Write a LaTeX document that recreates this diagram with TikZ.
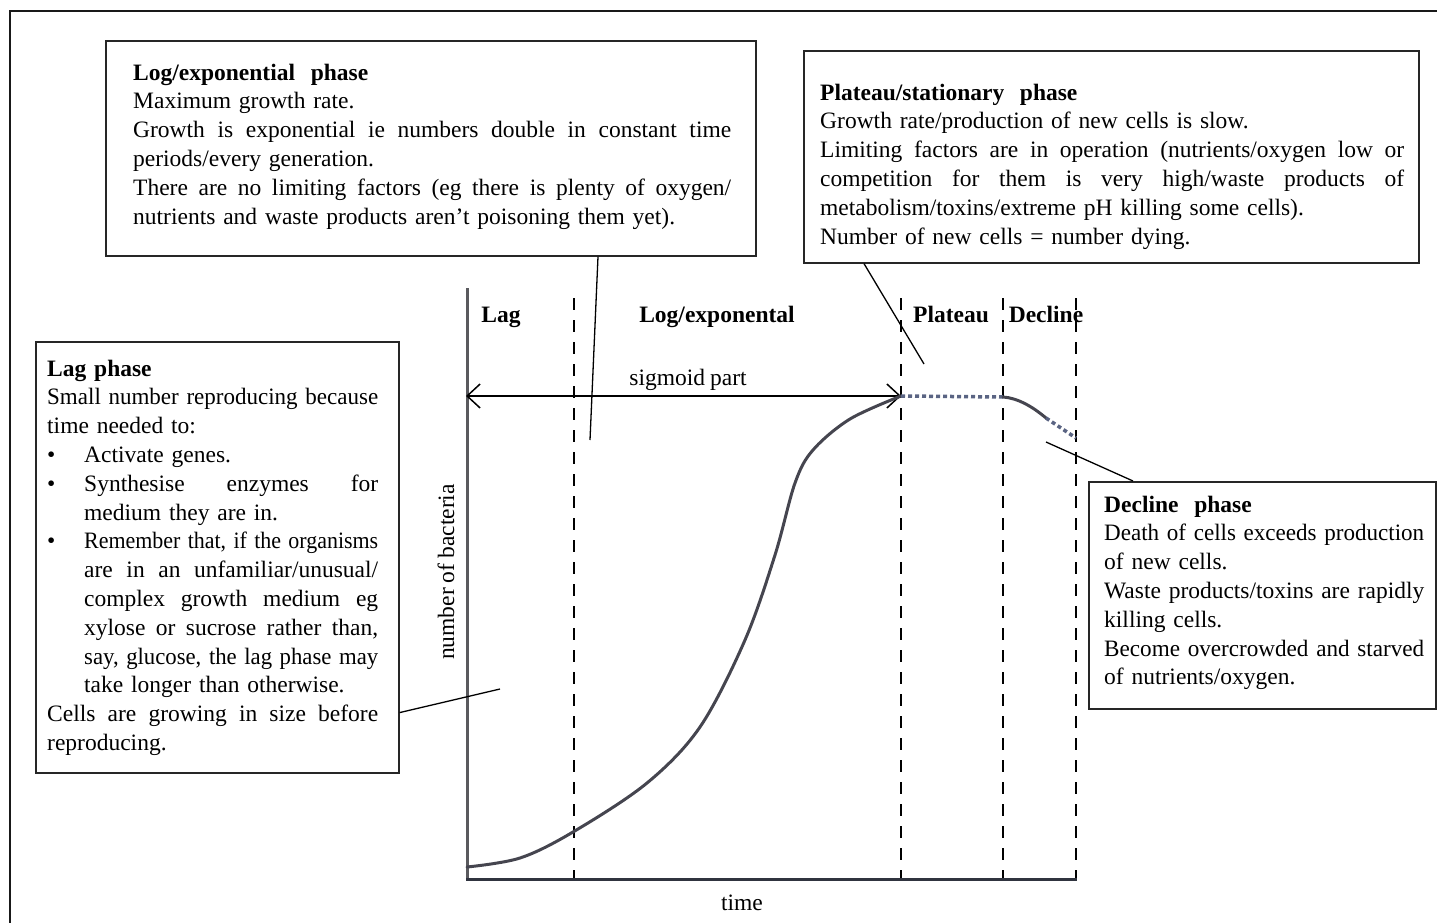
\documentclass[tikz,border=0pt]{standalone}
\usepackage{fontspec}
\usepackage{graphicx}
\setmainfont[WordSpace=0.85]{Liberation Serif}
\usetikzlibrary{arrows.meta}
\setlength{\parindent}{0pt}
\newsavebox{\jlbox}
\newcommand{\jl}[2]{\sbox{\jlbox}{#2}\ifdim\wd\jlbox>#1\relax\resizebox{#1}{\height}{\usebox{\jlbox}}\else\makebox[#1][s]{\spaceskip=0.21em plus 2em minus 0.07em #2}\fi}
\newcommand{\bul}{\makebox[37pt][l]{\textbullet}}
\definecolor{curvecol}{HTML}{45454F}
\definecolor{dotcol}{HTML}{5A6483}
\definecolor{xaxcol}{HTML}{30343F}
\definecolor{yaxcol}{HTML}{5A5A5E}
\begin{document}
\begin{tikzpicture}[x=1pt,y=-1pt,
  box/.style={draw=black!85, line width=1.6pt, inner sep=0pt, anchor=north west},
  txt/.style={inner sep=0pt, anchor=north west, align=left, font=\fontsize{23.5}{28.8}\selectfont},
  lbl/.style={inner sep=0pt, anchor=base, font=\fontsize{23.5}{28.8}\selectfont},
  conn/.style={line width=1.3pt, black},
  phaseline/.style={dash pattern=on 12pt off 10pt, line width=1.6pt, black},
  curve/.style={line width=3pt, color=curvecol, line cap=round},
  dotcurve/.style={line width=3.5pt, color=dotcol, dash pattern=on 4pt off 3pt},
  barb/.tip={Straight Barb[length=13pt,width=24pt]}]
\useasboundingbox (0,0) rectangle (1437,923);

% outer frame (top and left)
\draw[line width=2.5pt, black!90] (1437,11) -- (10,11) -- (10,923);

% boxes
\node[box, minimum width=650pt, minimum height=215pt] (logbox) at (105,40) {};
\node[box, minimum width=615pt, minimum height=212pt] (platbox) at (803,50) {};
\node[box, minimum width=363pt, minimum height=431pt] (lagbox) at (35,341) {};
\node[box, minimum width=347pt, minimum height=227pt] (decbox) at (1088,481) {};

% box texts
\node[txt, text width=598pt] (logtxt) at (133,59.8) {\strut\textbf{Log/exponential\ \ phase}\\
Maximum growth rate.\\
\jl{598pt}{Growth is exponential ie numbers double in constant time}\\
periods/every generation.\\
\jl{598pt}{There are no limiting factors (eg there is plenty of oxygen/}\\
nutrients and waste products aren't poisoning them yet).};

\node[txt, text width=584pt] (plattxt) at (820,79.8) {\strut\textbf{Plateau/stationary\ \ phase}\\
Growth rate/production of new cells is slow.\\
\jl{584pt}{Limiting factors are in operation (nutrients/oxygen low or}\\
\jl{584pt}{competition for them is very high/waste products of}\\
metabolism/toxins/extreme pH killing some cells).\\
Number of new cells = number dying.};

\node[txt, text width=331pt] (lagtxt) at (47,355.8) {\strut\textbf{Lag phase}\\
\jl{331pt}{Small number reproducing because}\\
time needed to:\\
\bul Activate genes.\\
\bul\jl{294pt}{Synthesise enzymes for}\\
\hspace*{37pt}medium they are in.\\
\bul\jl{294pt}{Remember that, if the organisms}\\
\hspace*{37pt}\jl{294pt}{are in an unfamiliar/unusual/}\\
\hspace*{37pt}\jl{294pt}{complex growth medium eg}\\
\hspace*{37pt}\jl{294pt}{xylose or sucrose rather than,}\\
\hspace*{37pt}\jl{294pt}{say, glucose, the lag phase may}\\
\hspace*{37pt}take longer than otherwise.\\
\jl{331pt}{Cells are growing in size before}\\
reproducing.};

\node[txt, text width=320pt] (dectxt) at (1104,491.8) {\strut\textbf{Decline\ \ phase}\\
\jl{320pt}{Death of cells exceeds production}\\
of new cells.\\
\jl{320pt}{Waste products/toxins are rapidly}\\
killing cells.\\
\jl{320pt}{Become overcrowded and starved}\\
of nutrients/oxygen.};

% phase boundaries
\draw[phaseline] (574,298) -- (574,880);
\draw[phaseline] (901,298) -- (901,880);
\draw[phaseline] (1003,298) -- (1003,880);
\draw[phaseline] (1076,298) -- (1076,880);

% axes
\draw[line width=3pt, color=yaxcol] (467,288) -- (467,880);
\draw[line width=3pt, color=xaxcol] (466,879) -- (1077,879);

% phase labels
\node[lbl] (lLag) at (501,322) {\textbf{Lag}};
\node[lbl] (lLog) at (717,322) {\textbf{Log/exponental}};
\node[lbl] (lPlat) at (951,322) {\textbf{Plateau}};
\node[lbl] (lDec) at (1046,322) {\textbf{Decline}};
\node[lbl] (lSig) at (688,385) {sigmoid part};
\node[lbl] (lTime) at (742,910) {time};
\node[lbl, rotate=90] (lNum) at (454,572) {number of bacteria};

% sigmoid double arrow
\coordinate (arrL) at (466,396);
\coordinate (arrR) at (901,396);
\draw[line width=1.5pt, barb-barb] (arrL) -- (arrR);

% growth curve
\draw[curve] plot[smooth, tension=0.55] coordinates {(467,867) (520,858) (573,832) (647,783) (700,727) (745,640) (775,555) (795,483) (813,450) (850,419) (901,396)};
\coordinate (pA) at (901,396);
\coordinate (pB) at (1003,397);
\coordinate (pC) at (1046,418);
\coordinate (pD) at (1076,438);
\draw[dotcurve] (pA) -- (pB);
\draw[curve] (pB) .. controls (1018,398) and (1033,407) .. (pC);
\draw[dotcurve] (pC) -- (pD);

% connectors
\coordinate (cLog) at (590,440);
\coordinate (cPlat) at (924,364);
\coordinate (cLag) at (500,689);
\coordinate (cDec) at (1046,442);
\draw[conn] ([xshift=493pt]logbox.south west) -- (cLog);
\draw[conn] ([xshift=61pt]platbox.south west) -- (cPlat);
\draw[conn] ([yshift=61pt]lagbox.south east) -- (cLag);
\draw[conn] ([xshift=45pt]decbox.north west) -- (cDec);
\end{tikzpicture}
\end{document}
